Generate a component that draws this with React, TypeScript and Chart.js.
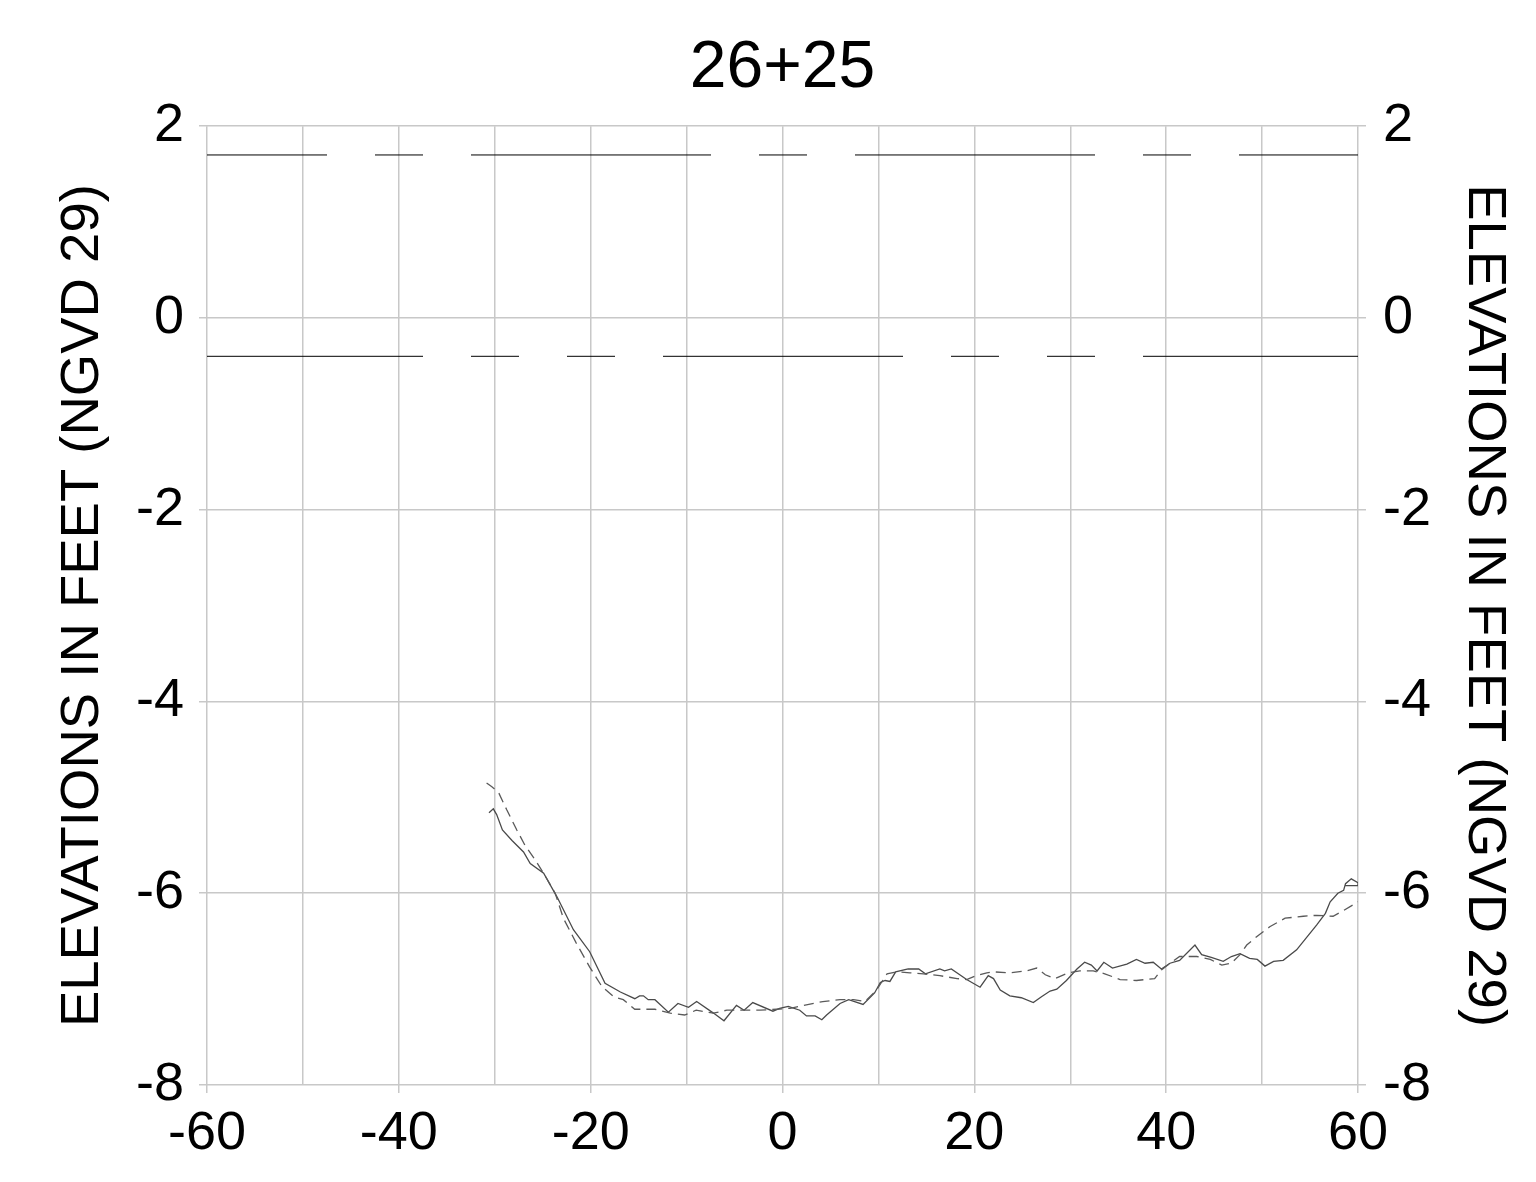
import React, { useEffect, useRef } from 'react';
import { Chart, registerables } from 'chart.js';

Chart.register(...registerables);

const CHART_TITLE = '26+25';
const Y_TITLE = 'ELEVATIONS IN FEET (NGVD 29)';
const FONT_FAMILY = 'Arial, "Liberation Sans", Helvetica, sans-serif';

// x-axis range and tick spacing
const X_MIN = -60;
const X_MAX = 60;
const Y_MIN = -8;
const Y_MAX = 2;

// reference (center / phantom) lines
const upperLineStations = [-60, 60];
const upperLineElev = [1.7, 1.7];
const lowerLineStations = [-60, 60];
const lowerLineElev = [-0.4, -0.4];

// solid profile
const solidStations = [
  -30.6, -30.15, -29.8, -29.2, -28.2, -27.0, -26.3, -24.9, -23.5, -21.8, -20.1, -18.5, -16.9, -15.4, -14.9,
  -14.5, -14.0, -13.3, -11.9, -10.9, -9.8, -8.95, -7.2, -6.1, -4.8, -4.0, -3.1, -1.0, -0.3, 0.6, 1.8, 2.5,
  3.4, 4.1, 4.6, 6.0, 6.9, 8.4, 9.6, 10.2, 10.7, 11.2, 11.8, 13.1, 14.2, 14.9, 16.4, 16.9, 17.6, 19.2, 20.6,
  21.45, 22.0, 22.7, 23.7, 24.9, 26.15, 27.0, 27.9, 28.6, 29.6, 30.7, 31.5, 32.2, 32.8, 33.5, 34.4, 35.9,
  36.9, 37.8, 38.65, 39.5, 40.4, 41.4, 43.0, 43.7, 44.7, 45.95, 46.8, 47.7, 48.7, 49.5, 50.3, 51.2, 52.2,
  53.6, 55.7, 56.6, 57.1, 57.9, 58.5, 58.7, 59.3, 60, 60, 58.7,
];
const solidElev = [
  -5.16, -5.12, -5.18, -5.34, -5.45, -5.57, -5.69, -5.79, -6.04, -6.38, -6.61, -6.94, -7.03, -7.1, -7.07,
  -7.07, -7.11, -7.11, -7.24, -7.15, -7.19, -7.13, -7.25, -7.33, -7.17, -7.22, -7.14, -7.23, -7.2, -7.18, -7.22, -7.28,
  -7.28, -7.32, -7.27, -7.15, -7.11, -7.16, -7.04, -6.93, -6.91, -6.92, -6.82, -6.79, -6.79, -6.84, -6.79, -6.81, -6.79, -6.9, -6.98,
  -6.86, -6.89, -7.01, -7.07, -7.09, -7.14, -7.08, -7.02, -7.0, -6.91, -6.79, -6.72, -6.75, -6.81, -6.72, -6.78, -6.74,
  -6.69, -6.73, -6.72, -6.79, -6.73, -6.7, -6.54, -6.64, -6.67, -6.71, -6.66, -6.63, -6.68, -6.69, -6.76, -6.71, -6.7,
  -6.59, -6.33, -6.21, -6.09, -6.0, -5.97, -5.9, -5.85, -5.89, -5.92, -5.92,
];

// dashed profile
const dashedStations = [
  -30.85, -30.3, -29.6, -28.75, -27.7, -26.85, -25.8, -24.8, -23.7, -22.85, -21.5, -20.1, -18.85, -17.6, -16.6,
  -15.4, -13.3, -11.7, -10.2, -9.0, -7.2, -5.8, -4.1, -2.35, -0.6, 0.8, 2.2, 4.2, 6.0, 7.4, 8.6, 9.8, 10.9,
  11.9, 13.3, 14.7, 16.4, 18.2, 19.2, 20.2, 21.3, 22.0, 23.7, 25.45, 26.5, 27.4, 28.4, 29.8, 31.0, 32.4, 33.6,
  35.2, 36.9, 38.8, 39.5, 40.4, 41.4, 43.2, 44.6, 45.8, 46.8, 47.7, 48.4, 49.6, 50.8, 52.4, 54.3, 55.7, 57.4,
  58.5, 60,
];
const dashedElev = [
  -4.85, -4.89, -4.95, -5.13, -5.34, -5.5, -5.65, -5.81, -6.0, -6.26, -6.52, -6.77, -6.97, -7.08, -7.11,
  -7.21, -7.21, -7.25, -7.27, -7.22, -7.25, -7.22, -7.22, -7.22, -7.21, -7.2, -7.17, -7.13, -7.11, -7.11, -7.13, -7.01, -6.84,
  -6.82, -6.83, -6.84, -6.86, -6.89, -6.9, -6.86, -6.83, -6.82, -6.83, -6.81, -6.78, -6.85, -6.89, -6.83, -6.81, -6.81, -6.84,
  -6.9, -6.91, -6.89, -6.8, -6.73, -6.66, -6.66, -6.69, -6.75, -6.73, -6.64, -6.54, -6.44, -6.35, -6.26, -6.24, -6.23, -6.24,
  -6.18, -6.09,
];

const toPoints = (xs: number[], ys: number[]) => xs.map((x, i) => ({ x, y: ys[i] }));

const GRID = '#c8c8c8';

export default function App() {
  const canvasRef = useRef<HTMLCanvasElement | null>(null);

  useEffect(() => {
    const canvas = canvasRef.current;
    if (!canvas) return;
    const tickFont = { family: FONT_FAMILY, size: 54 };
    const titleFont = { family: FONT_FAMILY, size: 54.5 };
    const chart = new Chart(canvas, {
      type: 'scatter',
      data: {
        datasets: [
          {
            data: toPoints(upperLineStations, upperLineElev),
            showLine: true,
            borderColor: '#000',
            borderWidth: 1,
            pointRadius: 0,
            borderDash: [240, 48, 48, 48],
            borderDashOffset: 120,
          },
          {
            data: toPoints(lowerLineStations, lowerLineElev),
            showLine: true,
            borderColor: '#000',
            borderWidth: 1,
            pointRadius: 0,
            borderDash: [240, 48, 48, 48, 48, 48],
            borderDashOffset: 24,
          },
          {
            data: toPoints(dashedStations, dashedElev),
            showLine: true,
            borderColor: '#5a5a5a',
            borderWidth: 1.3,
            pointRadius: 0,
            borderDash: [10, 6],
          },
          {
            data: toPoints(solidStations, solidElev),
            showLine: true,
            borderColor: '#4a4a4a',
            borderWidth: 1.3,
            pointRadius: 0,
          },
        ],
      },
      options: {
        responsive: false,
        animation: false,
        layout: { padding: 0 },
        plugins: {
          legend: { display: false },
          tooltip: { enabled: false },
          title: {
            display: true,
            fullSize: false,
            text: CHART_TITLE,
            color: '#000',
            font: { family: FONT_FAMILY, size: 66, weight: 'normal' },
            padding: { top: 29, bottom: 18 },
          },
        },
        scales: {
          x: {
            type: 'linear',
            min: X_MIN,
            max: X_MAX,
            ticks: {
              stepSize: 10,
              autoSkip: false,
              maxRotation: 0,
              color: '#000',
              font: tickFont,
              padding: 9,
              callback: (v: any) => (Number(v) % 20 === 0 ? String(v) : ''),
            },
            grid: {
              color: GRID,
              lineWidth: 1.5,
              tickLength: 8,
              tickColor: (ctx: any) =>
                ctx.tick && Number(ctx.tick.value) % 20 === 0 ? GRID : 'rgba(0,0,0,0)',
            },
            border: { display: false },
            afterFit: (s: any) => {
              s.height = 97;
            },
          },
          y: {
            type: 'linear',
            position: 'left',
            min: Y_MIN,
            max: Y_MAX,
            ticks: { stepSize: 2, color: '#000', font: tickFont, padding: 15 },
            grid: { color: GRID, lineWidth: 1.5, tickLength: 8 },
            border: { display: false },
            title: {
              display: true,
              text: Y_TITLE,
              color: '#000',
              font: titleFont,
              padding: { top: 50, bottom: 0 },
            },
            afterFit: (s: any) => {
              s.width = 207;
            },
          },
          y2: {
            type: 'linear',
            position: 'right',
            min: Y_MIN,
            max: Y_MAX,
            ticks: { stepSize: 2, color: '#000', font: tickFont, padding: 17 },
            grid: { color: GRID, lineWidth: 1.5, tickLength: 8, drawOnChartArea: false },
            border: { display: false },
            title: {
              display: true,
              text: Y_TITLE,
              color: '#000',
              font: titleFont,
              padding: { top: 19, bottom: 0 },
            },
            afterFit: (s: any) => {
              s.width = 178;
            },
          },
        },
      },
    } as any);
    return () => chart.destroy();
  }, []);

  return (
    <div style={{ position: 'absolute', left: 0, top: 0, width: 1536, height: 1182, background: '#fff' }}>
      <canvas ref={canvasRef} width={1536} height={1182} />
    </div>
  );
}
